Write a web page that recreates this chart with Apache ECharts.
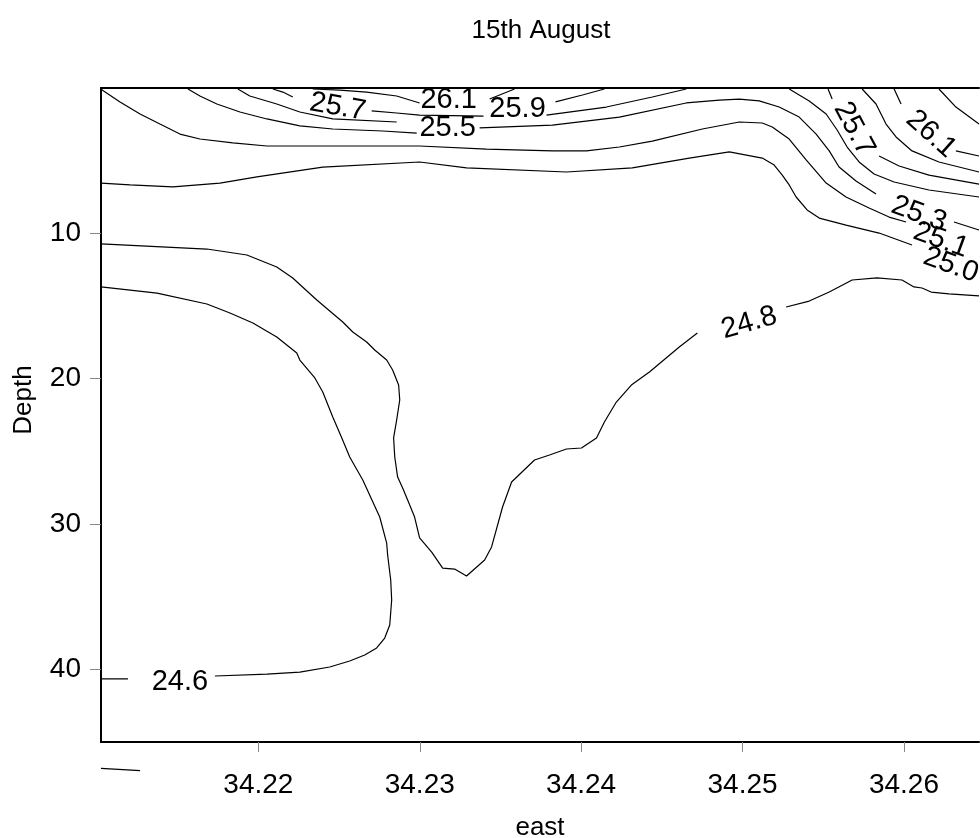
<!DOCTYPE html>
<html>
<head>
<meta charset="utf-8">
<script src="https://cdn.jsdelivr.net/npm/echarts@6/dist/echarts.min.js"></script>
<style>
  html, body { margin: 0; padding: 0; background: #fff; }
  #chart { width: 980px; height: 838px; }
</style>
</head>
<body>
<div id="chart"></div>
<script>
// Axis ticks
const eastTicks = [34.22, 34.23, 34.24, 34.25, 34.26];
const depthTicks = [10, 20, 30, 40];

// Isolines, each as [east, depth] points; "a/b/c" parts are split by their labels
const iso246a = [[34.21025, 40.66], [34.21192, 40.66]];
const iso246b = [[34.21731, 40.46], [34.22053, 40.33], [34.22257, 40.19], [34.22442, 39.84], [34.22566, 39.43],
  [34.22659, 39.01], [34.22733, 38.53], [34.22783, 37.85], [34.22814, 36.95], [34.22826, 35.23], [34.22820, 33.85],
  [34.22801, 32.13], [34.22795, 31.31], [34.22752, 29.52], [34.22647, 26.97], [34.22566, 25.39], [34.22517, 24.08],
  [34.22461, 22.64], [34.22399, 20.92], [34.22350, 19.95], [34.22257, 18.72], [34.22238, 18.23], [34.22114, 17.13],
  [34.21966, 16.17], [34.21824, 15.48], [34.21681, 14.86], [34.21372, 14.11], [34.21025, 13.69]];
const iso246c = [[34.21025, 46.81], [34.21267, 46.97]];

const iso248a = [[34.21025, 10.73], [34.21681, 11.08], [34.21929, 11.49], [34.22114, 12.32], [34.22213, 13.07],
  [34.22362, 14.59], [34.22523, 16.10], [34.22585, 16.79], [34.22671, 17.48], [34.22721, 18.03], [34.22795, 18.72],
  [34.22832, 19.40], [34.22869, 20.44], [34.22876, 21.47], [34.22857, 22.84], [34.22838, 24.08], [34.22845, 25.39],
  [34.22863, 26.77], [34.22894, 27.52], [34.22925, 28.35], [34.22968, 29.52], [34.22999, 30.96], [34.23074, 31.93],
  [34.23142, 33.03], [34.23216, 33.10], [34.23290, 33.58], [34.23402, 32.48], [34.23445, 31.58], [34.23513, 28.83],
  [34.23569, 27.11], [34.23711, 25.60], [34.23804, 25.25], [34.23909, 24.84], [34.24002, 24.77], [34.24095, 24.08],
  [34.24144, 22.98], [34.24218, 21.61], [34.24311, 20.44], [34.24423, 19.54], [34.24608, 17.82], [34.24720, 16.86]];
const iso248b = [[34.25270, 15.07], [34.25413, 14.66], [34.25537, 14.04], [34.25679, 13.21], [34.25833, 13.07],
  [34.25988, 13.21], [34.26062, 13.69], [34.26112, 13.76], [34.26168, 14.04], [34.26279, 14.17], [34.26465, 14.31]];

const iso250 = [[34.21025, 6.54], [34.21205, 6.67], [34.21471, 6.81], [34.21762, 6.54], [34.21991, 6.12],
  [34.22399, 5.44], [34.22999, 5.09], [34.23290, 5.50], [34.23909, 5.78], [34.24317, 5.50], [34.24670, 4.82],
  [34.24918, 4.40], [34.25122, 4.82], [34.25196, 5.30], [34.25246, 5.99], [34.25289, 6.67], [34.25332, 7.50],
  [34.25400, 8.39], [34.25475, 8.95], [34.25641, 9.43], [34.25846, 9.98], [34.26050, 10.80]];

const iso251 = [[34.21025, 0], [34.21032, 0.14], [34.21143, 0.96], [34.21267, 1.79], [34.21390, 2.48],
  [34.21514, 3.17], [34.21638, 3.51], [34.21842, 3.78], [34.22053, 3.99], [34.22461, 3.99], [34.22999, 3.99],
  [34.23414, 4.20], [34.23822, 4.33], [34.24033, 4.33], [34.24237, 4.06], [34.24441, 3.65], [34.24751, 2.82],
  [34.24980, 2.34], [34.25122, 2.41], [34.25184, 2.68], [34.25289, 3.51], [34.25394, 4.95], [34.25518, 6.54],
  [34.25641, 7.50], [34.25784, 8.26], [34.25908, 8.88], [34.26013, 9.22]];

const iso253a = [[34.21564, 0.07], [34.21638, 0.55], [34.21743, 1.10], [34.21886, 1.65], [34.22053, 2.13],
  [34.22257, 2.61], [34.22461, 2.82], [34.22770, 2.96], [34.22981, 3.10]];
const iso253b = [[34.23371, 2.75], [34.23822, 2.55],
  [34.24237, 2.00], [34.24651, 1.03], [34.24856, 0.83], [34.24980, 0.76], [34.25103, 0.89], [34.25227, 1.31],
  [34.25351, 2.00], [34.25456, 3.17], [34.25537, 4.33], [34.25598, 5.44], [34.25703, 6.40], [34.25827, 7.29]];
const iso253c = [[34.26310, 9.22], [34.26465, 9.77]];

const iso255a = [[34.21873, 0.07], [34.21947, 0.55], [34.22114, 1.10], [34.22257, 1.65], [34.22461, 2.13], [34.22857, 2.34]];
const iso255b = [[34.25289, 0.07], [34.25413, 0.89], [34.25518, 1.79], [34.25586, 2.89], [34.25648, 4.06],
  [34.25722, 5.09], [34.25815, 5.92], [34.25939, 6.47], [34.26155, 7.02], [34.26465, 7.50]];

const iso257a = [[34.22090, 0.07], [34.22152, 0.28], [34.22213, 0.62]];
const iso257b = [[34.22702, 1.58], [34.22857, 1.72], [34.22999, 1.86], [34.23395, 1.93]];
const iso257c = [[34.23785, 1.86], [34.24156, 1.31], [34.24441, 0.62], [34.24651, 0.07]];
const iso257d = [[34.25530, 0.07], [34.25555, 0.76]];
const iso257e = [[34.25846, 4.68], [34.25970, 5.37], [34.26155, 5.99], [34.26465, 6.61]];

const iso259a = [[34.22337, 0.07], [34.22504, 0.14], [34.22671, 0.28], [34.22857, 0.55], [34.22999, 1.03]];
const iso259b = [[34.23841, 0.96], [34.24008, 0.48], [34.24144, 0.07]];
const iso259c = [[34.25741, 0.07], [34.25827, 1.10], [34.25889, 2.48], [34.25951, 3.37], [34.26050, 4.33],
  [34.26217, 5.09], [34.26465, 5.78]];

const iso261a = [[34.23433, 0.76], [34.23587, 0.07]];
const iso261b = [[34.25939, 0.07], [34.25982, 1.10]];
const iso261c = [[34.26322, 4.33], [34.26465, 4.68]];

const iso263 = [[34.26217, 0.07], [34.26322, 1.31], [34.26465, 2.48]];

// Isoline labels: [east, depth, text]
const isoLabels = [
  [34.21514, 40.87, '24.6'],
  [34.25041, 16.17, '24.8'],
  [34.26291, 12.18, '25.0'],
  [34.26229, 10.46, '25.1'],
  [34.26093, 8.67, '25.3'],
  [34.23173, 2.75, '25.5'],
  [34.22492, 1.31, '25.7'],
  [34.25691, 2.82, '25.7'],
  [34.23606, 1.44, '25.9'],
  [34.23179, 0.83, '26.1'],
  [34.26168, 3.17, '26.1']
];

const labelAngles = [0, 16, -20, -20, -20, 0, -10, -62, 0, 0, -42];

const isolines = [iso246a, iso246b, iso248a, iso248b, iso250, iso251, iso253a, iso253b, iso253c,
  iso255a, iso255b, iso257a, iso257b, iso257c, iso257d, iso257e, iso259a, iso259b, iso259c,
  iso261a, iso261b, iso261c, iso263];

const FONT = "'Liberation Sans', Arial, Helvetica, sans-serif";
const xMin = 34.21025, xMax = 34.26465;

const chart = echarts.init(document.getElementById('chart'), null, { renderer: 'canvas' });

const lineStyle = { color: '#000', width: 1.2 };

const lineSeries = isolines.map(pts => ({
  type: 'line',
  data: pts,
  showSymbol: false,
  symbol: 'none',
  silent: true,
  lineStyle: lineStyle,
  z: 3
}));

// Segment that runs past the plotting area below the left corner
lineSeries.push({
  type: 'line',
  data: iso246c,
  showSymbol: false,
  symbol: 'none',
  silent: true,
  clip: false,
  lineStyle: lineStyle,
  z: 3
});

const labelSeries = {
  type: 'scatter',
  symbolSize: 0,
  silent: true,
  z: 5,
  itemStyle: { opacity: 1 },
  data: isoLabels.map((d, i) => ({
    value: [d[0], d[1]],
    name: d[2],
    label: { rotate: labelAngles[i] }
  })),
  label: {
    show: true,
    position: 'inside',
    formatter: p => p.name,
    color: '#000',
    opacity: 1,
    fontFamily: FONT,
    fontSize: 29
  }
};

chart.setOption({
  animation: false,
  backgroundColor: '#fff',
  title: {
    text: '15th August',
    left: 536,
    textAlign: 'center',
    top: 13,
    textStyle: { fontFamily: FONT, fontSize: 26, fontWeight: 'normal', color: '#000' }
  },
  grid: { left: 101, top: 88, width: 878, height: 654, containLabel: false, outerBoundsMode: 'none' },
  xAxis: [{
    type: 'value',
    min: xMin,
    max: xMax,
    position: 'bottom',
    name: 'east',
    nameLocation: 'middle',
    nameGap: 73,
    nameTextStyle: { fontFamily: FONT, fontSize: 26, color: '#000' },
    axisLine: { show: true, onZero: false, lineStyle: { color: '#000', width: 2 } },
    axisTick: { show: true, customValues: eastTicks, length: 10, lineStyle: { color: '#888', width: 1 } },
    axisLabel: { show: true, customValues: eastTicks, formatter: v => v.toFixed(2), margin: 29,
      fontFamily: FONT, fontSize: 28, color: '#000' },
    splitLine: { show: false }
  }, {
    type: 'value',
    min: xMin,
    max: xMax,
    position: 'top',
    axisLine: { show: true, onZero: false, lineStyle: { color: '#000', width: 2 } },
    axisTick: { show: false },
    axisLabel: { show: false },
    splitLine: { show: false }
  }],
  yAxis: {
    type: 'value',
    inverse: true,
    min: 0,
    max: 45,
    name: 'Depth',
    nameLocation: 'middle',
    nameRotate: 90,
    nameGap: 64,
    nameTextStyle: { fontFamily: FONT, fontSize: 26, color: '#000', padding: [0, 0, 0, 30] },
    axisLine: { show: true, onZero: false, lineStyle: { color: '#000', width: 2 } },
    axisTick: { show: true, customValues: depthTicks, length: 11, lineStyle: { color: '#888', width: 1 } },
    axisLabel: { show: true, customValues: depthTicks, margin: 20, fontFamily: FONT, fontSize: 28, color: '#000' },
    splitLine: { show: false }
  },
  series: lineSeries.concat([labelSeries])
});
</script>
</body>
</html>
